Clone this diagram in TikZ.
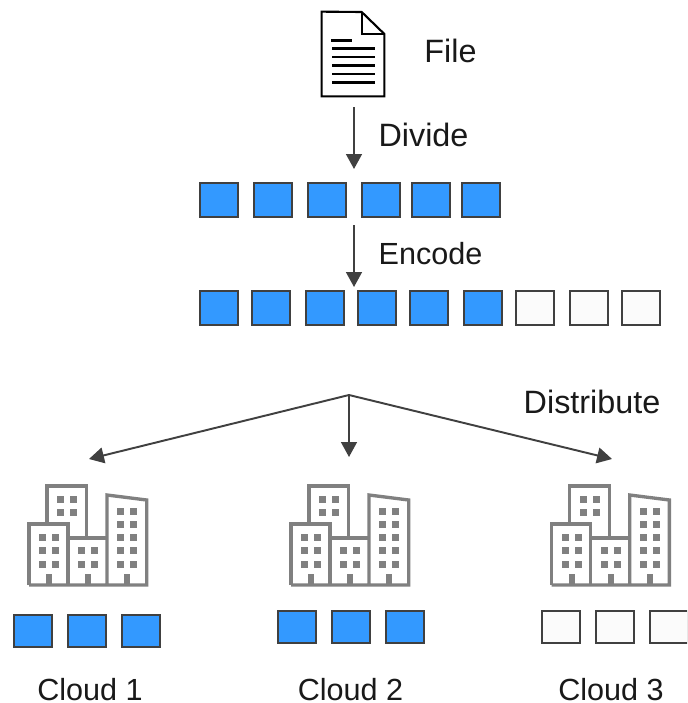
\documentclass[tikz,border=0pt]{standalone}
\usepackage{fontspec}
\setmainfont{Liberation Sans}
\usetikzlibrary{arrows.meta, positioning, calc}
\definecolor{edgegray}{HTML}{404040}
\definecolor{cityblue}{HTML}{3399FF}
\definecolor{citygray}{HTML}{808080}
\definecolor{paritywhite}{HTML}{FBFBFB}
\tikzset{
    city/.pic = {
        \draw[citygray, line width=1.9pt, line join=miter] (47,523) -- (47,486) -- (86.5,486) -- (86.5,538);
        \draw[citygray, line width=1.9pt, line join=miter] (29,585) -- (29,524) -- (68,524) -- (68,585);
        \draw[citygray, line width=1.9pt, line join=miter] (68,538) -- (107,538);
        \draw[citygray, line width=1.9pt, line join=miter] (107,585) -- (107,495) -- (146.7,500) -- (146.7,585) -- (29,585);
        \foreach \wx/\wy in {60.3/499.3, 73.3/499.3, 60.3/512.7, 73.3/512.7,
            81.3/550.3, 94.3/550.3, 81.3/564.3, 94.3/564.3} {
            \fill[citygray] (\wx-3.5,\wy-3.5) rectangle (\wx+3.5,\wy+3.5);
        }
        \foreach \wy in {537.3, 550.3, 564.3} {
            \fill[citygray] (38.8,\wy-3.5) rectangle (45.8,\wy+3.5);
            \fill[citygray] (51.8,\wy-3.5) rectangle (58.8,\wy+3.5);
        }
        \foreach \wy in {511.3, 524.3, 537.3, 550.3, 564.3} {
            \fill[citygray] (116.8,\wy-3.5) rectangle (123.8,\wy+3.5);
            \fill[citygray] (129.8,\wy-3.5) rectangle (136.8,\wy+3.5);
        }
        \foreach \dx in {49, 88, 127} {
            \fill[citygray] (\dx-3,574) rectangle (\dx+3,585);
        }
    }
}

\begin{document}
\begin{tikzpicture}[x=0.02cm, y=-0.02cm,
    data/.style = {rectangle, draw=edgegray, fill=cityblue, line width=1.25pt, minimum width=0.75cm, minimum height=0.67cm, inner sep=0pt},
    parity/.style = {data, fill=paritywhite},
    small/.style = {minimum height=0.63cm},
    label/.style = {anchor=base, inner sep=0pt, text=black!90, font=\fontsize{18.4}{22}\selectfont},
    narrow/.style = {label, font=\fontsize{17.4}{22}\selectfont},
    flow/.style = {draw=edgegray, line width=1.1pt, -{Triangle[length=8.5pt, width=9pt]}}]
        \path[use as bounding box, clip] (0,0) rectangle (687,703);
        \fill[white] (0,0) rectangle (687,703);

        % file icon
        \node[minimum width=1.24cm, minimum height=1.68cm, inner sep=0pt] (file) at (353,54) {};
        \draw[black, line width=1.2pt, fill=white] (file.north west) -- (361.7,12) -- (file.east |- 0,34) -- (file.south east) -- (file.south west) -- cycle;
        \draw[black, line width=1.2pt] (361.7,12) -- (361.7,34) -- (file.east |- 0,34);
        \draw[black, line width=1.4pt] (331,40.5) -- (352,40.5);
        \foreach \ly in {48.5, 57, 65.5, 74, 82.5} {
            \draw[black, line width=1.4pt] (332,\ly) -- (375,\ly);
        }
        \node[label] (filetext) at (450.5,62) {File};

        % divided file
        \foreach \i/\x in {1/219, 2/273, 3/327, 4/381, 5/431, 6/481} {
            \node[data] (a\i) at (\x,200) {};
        }
        \coordinate (dividefrom) at (354,107);
        \coordinate (divideto) at (354,169);
        \draw[flow] (dividefrom) -- (divideto);
        \node[label] (dividetext) at (423.5,146) {Divide};

        % encoded file
        \foreach \i/\x in {1/219, 2/271, 3/325, 4/377, 5/429, 6/483} {
            \node[data] (b\i) at (\x,308) {};
        }
        \foreach \i/\x in {7/535, 8/589, 9/641} {
            \node[parity] (b\i) at (\x,308) {};
        }
        \coordinate (encodefrom) at (354,225);
        \coordinate (encodeto) at (354,287);
        \draw[flow] (encodefrom) -- (encodeto);
        \node[narrow] (encodetext) at (430.5,264) {Encode};

        % distribute
        \coordinate (fork) at (349,395);
        \coordinate (toleft) at (89,459);
        \coordinate (tomid) at (349,457);
        \coordinate (toright) at (612,459);
        \draw[flow] (fork) -- (toleft);
        \draw[flow] (fork) -- (tomid);
        \draw[flow] (fork) -- (toright);
        \node[label] (distributetext) at (592,413) {Distribute};

        % clouds
        \pic at (0,0) {city};
        \pic at (262,0) {city};
        \pic at (522.7,0) {city};
        \foreach \i/\x in {1/33, 2/87, 3/141} {
            \node[data, small] (c\i) at (\x,631) {};
        }
        \foreach \i/\x in {1/297, 2/351, 3/405} {
            \node[data, small] (d\i) at (\x,627) {};
        }
        \foreach \i/\x in {1/561, 2/615, 3/669} {
            \node[parity, small] (e\i) at (\x,627) {};
        }
        \node[narrow] (cloudone) at (90,700) {Cloud 1};
        \node[narrow] (cloudtwo) at (350.5,700) {Cloud 2};
        \node[narrow] (cloudthree) at (611,700) {Cloud 3};
    \end{tikzpicture}
\end{document}
